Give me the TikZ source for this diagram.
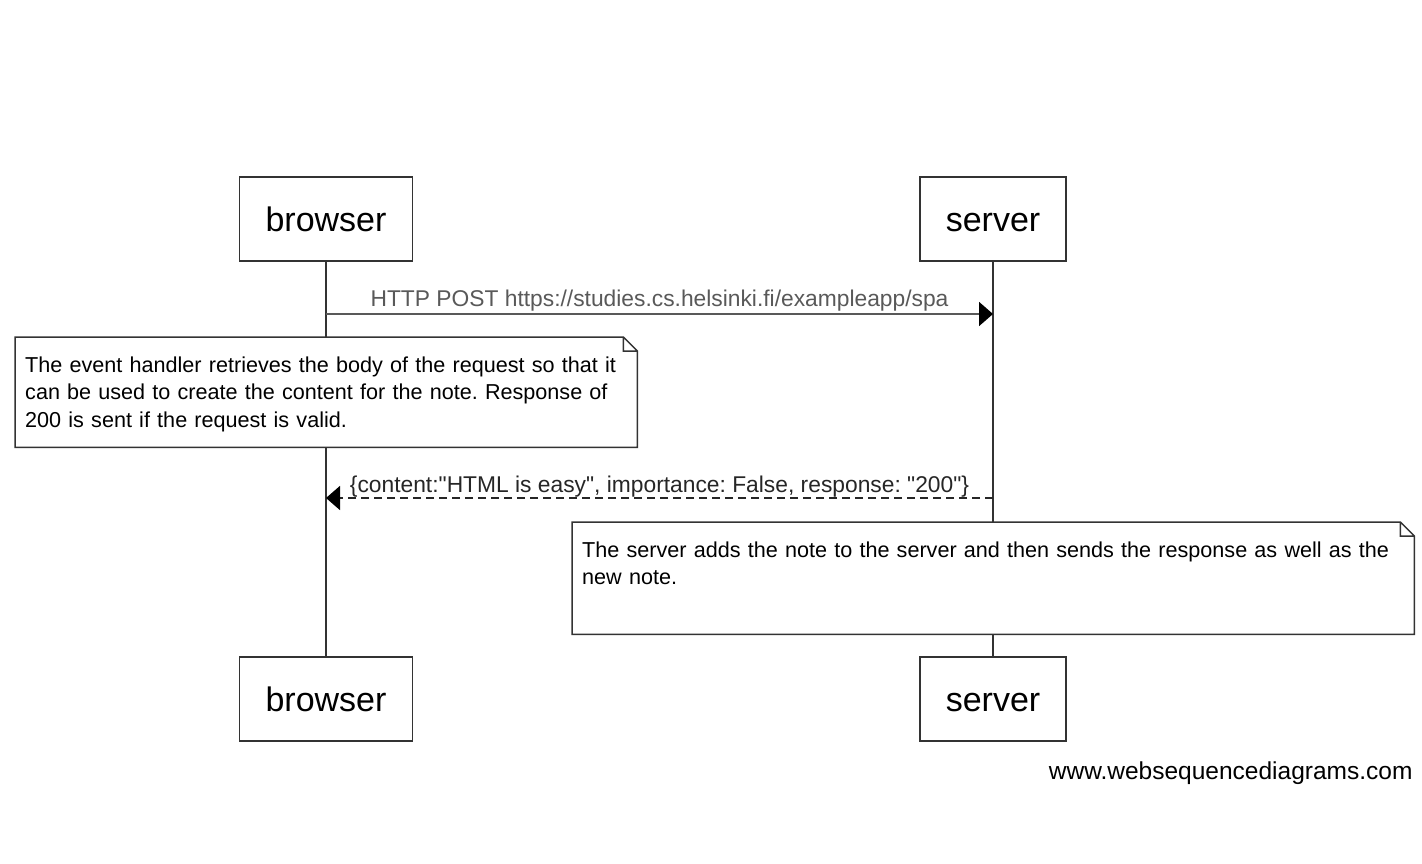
\documentclass[tikz,border=0pt]{standalone}
\usepackage{fontspec}
\setmainfont{Liberation Sans}[Ligatures=TeXOff]
\usetikzlibrary{arrows.meta,calc}
\frenchspacing

\begin{document}
\begin{tikzpicture}
  [
    x=1pt, y=-1pt,
    block/.style =
      {draw=black!80, line width=1.5pt, rectangle, align=center,
       inner xsep=26pt, minimum height=84pt, text height=26pt, text depth=2pt,
       font=\fontsize{34}{40}\selectfont},
    note/.style =
      {fill=white, anchor=north west, align=left, inner xsep=10pt, inner ysep=10pt,
       text height=25pt, font=\fontsize{21.6}{27.5}\selectfont},
    msg/.style =
      {font=\fontsize{22.8}{26}\selectfont, inner sep=2pt},
    lifeline/.style = {draw=black!80, line width=1.5pt},
    call/.style = {black!65, line width=1.8pt, -{Triangle[length=14pt,width=24pt,black]}},
    reply/.style = {black!85, line width=1.5pt, dash pattern=on 8pt off 5pt,
       -{Triangle[length=14pt,width=24pt,black]}}
  ]
  \useasboundingbox (0,0) rectangle (1422,864);

  \node [block] at (326,219) (b) {browser};
  \node [block] at (993,219) (s) {server};
  \node [block] at (326,699) (bb) {browser};
  \node [block] at (993,699) (sb) {server};

  % lifelines
  \draw [lifeline] (b.south)  -- (bb.north);
  \draw [lifeline] (s.south)  -- (sb.north);

  % messages
  \coordinate (b1) at (b.south |- 0,314);
  \coordinate (s1) at (s.south |- 0,314);
  \coordinate (b2) at (b.south |- 0,498);
  \coordinate (s2) at (s.south |- 0,498);
  \draw [call]  (b1) -- node [msg, above] {HTTP POST https://studies.cs.helsinki.fi/exampleapp/spa} (s1);
  \draw [reply] (s2) -- node [msg, above, yshift=-2pt]
    {\{content:"HTML is easy", importance: False, response: "200"\}} (b2);

  % notes
  \node [note, text width=602pt, text depth=65pt] at (15,337) (n1)
    {The event handler retrieves the body of the request so that it\\
     can be used to create the content for the note. Response of\\
     200 is sent if the request is valid.};
  \node [note, text width=822pt, text depth=67pt] at (572,522) (n2)
    {The server adds the note to the server and then sends the response as well as the\\
     new note.};
  \foreach \n in {n1,n2}
    \draw [black!80, line width=1.5pt]
      (\n.north west) -- ($(\n.north east)-(14,0)$) -- ($(\n.north east)+(0,14)$)
      -- (\n.south east) -- (\n.south west) -- cycle
      ($(\n.north east)-(14,0)$) -- ($(\n.north east)+(-14,14)$) -- ($(\n.north east)+(0,14)$);

  \node [font=\fontsize{24.5}{28}\selectfont, anchor=east] at (1416,773) (wsd) {www.websequencediagrams.com};
\end{tikzpicture}
\end{document}
